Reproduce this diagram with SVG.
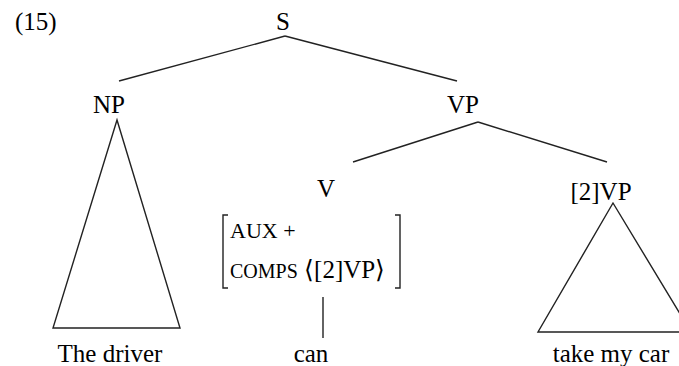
<svg xmlns="http://www.w3.org/2000/svg" width="679" height="366" viewBox="0 0 679 366">
<style>
text{fill:#000;font-size:25px;font-family:"Liberation Serif","Times New Roman",serif}
.m{text-anchor:middle}
.sm{font-size:22px}
.xs{font-size:20px}
line,polygon,polyline{stroke:#222;stroke-width:1.4;fill:none}
</style>
<rect width="679" height="366" fill="#fff"/>
<text x="15" y="30">(15)</text>
<g id="connectors">
<line x1="285" y1="36" x2="119" y2="81"/>
<line x1="285" y1="36" x2="457" y2="81"/>
<line x1="478" y1="122" x2="353" y2="162"/>
<line x1="478" y1="122" x2="607" y2="162"/>
<line x1="323" y1="297" x2="323" y2="338"/>
</g>
<g id="S"><text class="m" x="283" y="30">S</text></g>
<g id="NP"><text class="m" x="109" y="113">NP</text>
<polygon points="117,120 53,328 180,328"/></g>
<g id="The_driver"><text class="m" x="110" y="362">The driver</text></g>
<g id="VP"><text class="m" x="463" y="113">VP</text></g>
<g id="V"><text class="m" x="326" y="197">V</text>
<polyline points="228,215 223,215 223,288 228,288"/>
<polyline points="395,215 400,215 400,288 395,288"/>
<text class="sm" x="230" y="238">AUX +</text>
<text x="230" y="278"><tspan class="xs">COMPS</tspan> ⟨[2]VP⟩</text>
</g>
<g id="can"><text class="m" x="311" y="362">can</text></g>
<g id="VP2"><text class="m" x="601" y="200">[2]VP</text>
<polygon points="613,203 538,332 691,332"/></g>
<g id="take_my_car"><text class="m" x="611" y="362">take my car</text></g>
</svg>
